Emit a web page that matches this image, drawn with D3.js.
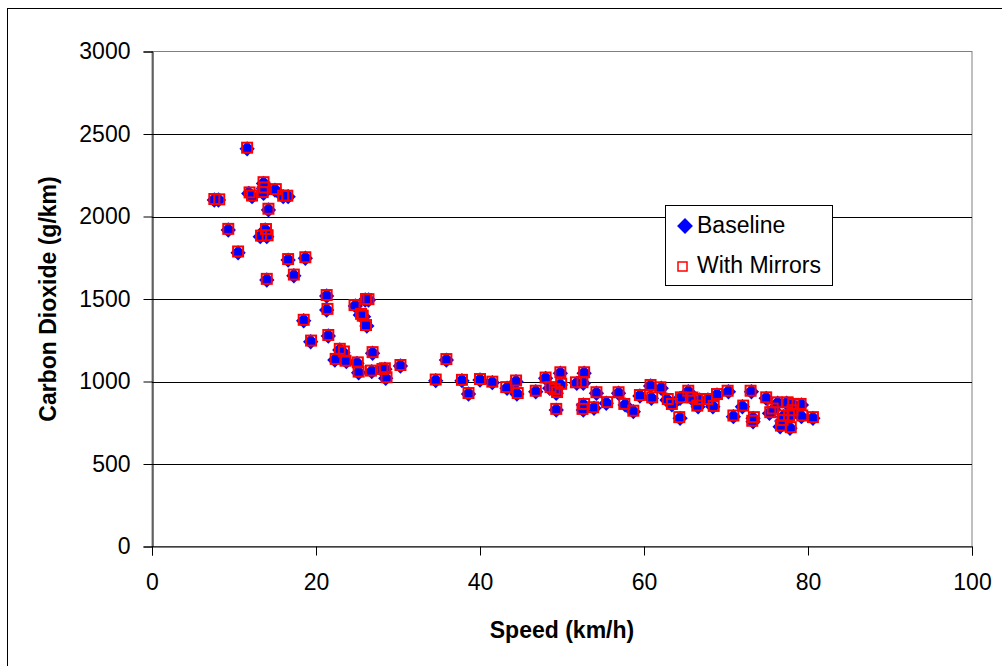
<!DOCTYPE html>
<html>
<head>
<meta charset="utf-8">
<script src="https://cdn.jsdelivr.net/npm/d3@7"></script>
<style>
  body { margin: 0; background: #fff; }
  svg { display: block; font-family: "Liberation Sans", Arial, sans-serif; }
</style>
</head>
<body>
<svg id="chart" width="1002" height="666"></svg>
<script>
// Speed (km/h) and CO2 (g/km)
const baseSpeed = [7.6, 8.1, 9.3, 10.5, 11.6, 11.8, 12.2, 13.2, 13.6, 13.6, 13.6, 13.8, 14.0, 14.0, 14.2, 15.0, 16.0, 16.6, 16.6, 17.3,
  18.5, 18.7, 19.35, 21.3, 21.3, 21.5, 22.3, 22.9, 23.3, 23.7, 24.8, 25.0, 25.2, 25.4, 25.8, 26.0, 26.4, 26.2, 26.9, 26.8,
  28.0, 28.4, 28.5, 30.3, 34.6, 35.9, 37.8, 38.6, 40.0, 41.5, 43.3, 44.4, 44.5, 46.8, 48.0, 48.5, 49.2, 49.3, 49.8, 49.8,
  49.3, 51.8, 52.6, 52.7, 52.6, 52.6, 54.2, 53.9, 55.4, 56.9, 57.7, 58.7, 59.5, 60.8, 60.9, 62.1, 62.8, 63.4, 64.4, 64.4,
  65.4, 65.8, 66.6, 66.8, 67.8, 68.4, 68.9, 70.3, 70.9, 72.0, 73.1, 73.3, 73.3, 74.9, 75.3, 76.3, 76.6, 77.0, 77.4, 77.8,
  77.8, 78.2, 79.2, 79.2, 80.6, 76.8, 78.0, 75.8];
const baseCO2 = [2100, 2100, 1918, 1780, 2410, 2140, 2120, 1878, 2200, 2170, 2140, 1918, 1878, 1615, 2040, 2160, 2120, 2120, 1736, 1641,
  1368, 1747, 1241, 1518, 1433, 1276, 1130, 1191, 1175, 1120, 1458, 1110, 1053, 1403, 1393, 1494, 1494, 1336, 1171, 1060,
  1070, 1074, 1019, 1094, 1005, 1130, 1005, 924, 1009, 993, 959, 999, 924, 938, 1019, 959, 948, 929, 1050, 979,
  827, 989, 989, 1050, 858, 827, 929, 838, 868, 929, 858, 817, 912, 973, 898, 959, 888, 858, 898, 777,
  938, 898, 847, 888, 888, 847, 918, 938, 787, 847, 938, 777, 756, 898, 807, 868, 726, 787, 868, 716,
  787, 858, 858, 787, 777, 760, 820, 830];

const mirrorSpeed = [7.6, 8.2, 9.3, 10.5, 11.6, 11.9, 12.2, 13.3, 13.6, 13.7, 13.5, 13.9, 14.1, 14.0, 14.2, 15.1, 16.0, 16.5, 16.6, 17.3,
  18.5, 18.7, 19.4, 21.3, 21.4, 21.5, 22.4, 22.9, 23.4, 23.6, 24.7, 25.1, 25.2, 25.5, 25.7, 26.1, 26.4, 26.1, 26.9, 26.7,
  28.1, 28.4, 28.6, 30.3, 34.6, 35.9, 37.8, 38.6, 40.0, 41.5, 43.2, 44.4, 44.6, 46.8, 48.0, 48.6, 49.1, 49.4, 49.8, 49.9,
  49.3, 51.7, 52.5, 52.7, 52.7, 52.5, 54.2, 53.8, 55.5, 56.9, 57.6, 58.7, 59.5, 60.8, 61.0, 62.0, 62.9, 63.4, 64.5, 64.3,
  65.4, 65.9, 66.5, 66.8, 67.7, 68.5, 68.9, 70.2, 70.9, 72.1, 73.0, 73.4, 73.2, 74.9, 75.4, 76.2, 76.7, 77.0, 77.5, 77.9,
  77.7, 78.2, 79.1, 79.3, 80.6, 76.9, 78.1, 75.7];
const mirrorCO2 = [2106, 2104, 1925, 1788, 2417, 2146, 2127, 1884, 2208, 2176, 2148, 1924, 1886, 1622, 2047, 2166, 2126, 2126, 1742, 1648,
  1374, 1753, 1248, 1524, 1440, 1282, 1137, 1198, 1182, 1126, 1463, 1116, 1060, 1410, 1399, 1500, 1499, 1342, 1178, 1066,
  1076, 1080, 1026, 1100, 1012, 1136, 1010, 930, 1015, 999, 966, 1006, 930, 944, 1024, 966, 954, 936, 1056, 986,
  834, 995, 996, 1056, 864, 834, 935, 844, 875, 935, 864, 823, 918, 979, 904, 965, 894, 864, 904, 784,
  944, 903, 854, 894, 894, 852, 924, 944, 794, 854, 944, 784, 762, 904, 814, 874, 733, 794, 874, 723,
  794, 864, 864, 794, 784, 767, 826, 836];

const xTicks = [0, 20, 40, 60, 80, 100];
const yTicks = [0, 500, 1000, 1500, 2000, 2500, 3000];

const baseline = baseSpeed.map((s, i) => ({ x: s, y: baseCO2[i] }));
const mirrors = mirrorSpeed.map((s, i) => ({ x: s, y: mirrorCO2[i] }));

const svg = d3.select("#chart");
const plotLeft = 152, plotRight = 972, plotTop = 51.5, plotBottom = 546.5;

const x = d3.scaleLinear().domain([0, 100]).range([plotLeft, plotRight]);
const y = d3.scaleLinear().domain([0, 3000]).range([plotBottom, plotTop]);

// outer chart border (runs off the right/bottom edge)
svg.append("rect")
  .attr("x", 7.5).attr("y", 8.5)
  .attr("width", 1100).attr("height", 800)
  .attr("fill", "#fff").attr("stroke", "#000");

// plot area frame
svg.append("rect")
  .attr("x", plotLeft).attr("y", plotTop)
  .attr("width", plotRight - plotLeft).attr("height", plotBottom - plotTop)
  .attr("fill", "#fff").attr("stroke", "#808080");

// horizontal gridlines
svg.append("g")
  .selectAll("line")
  .data(yTicks.filter(d => d > 0 && d < 3000))
  .join("line")
  .attr("x1", plotLeft).attr("x2", plotRight)
  .attr("y1", d => Math.round(y(d)) + 0.5).attr("y2", d => Math.round(y(d)) + 0.5)
  .attr("stroke", "#000");

// axes
const yAxis = svg.append("g")
  .attr("transform", `translate(${plotLeft + 0.5},0)`)
  .call(d3.axisLeft(y).tickValues(yTicks).tickSize(9).tickPadding(13).tickFormat(d3.format("d")));
const xAxis = svg.append("g")
  .attr("transform", `translate(0,${plotBottom})`)
  .call(d3.axisBottom(x).tickValues(xTicks).tickSize(9).tickPadding(18).tickFormat(d3.format("d")));

[xAxis, yAxis].forEach(g => {
  g.select(".domain").attr("stroke", "#000");
  g.selectAll(".tick line").attr("stroke", "#000");
  g.selectAll(".tick text")
    .attr("fill", "#000")
    .style("font-size", "23px")
    .style("font-family", "'Liberation Sans', Arial, sans-serif");
});

// axis titles
svg.append("text")
  .attr("x", (plotLeft + plotRight) / 2).attr("y", 638)
  .attr("text-anchor", "middle")
  .style("font-size", "23px").style("font-weight", "bold")
  .text("Speed (km/h)");

svg.append("text")
  .attr("transform", `translate(56,${(plotTop + plotBottom) / 2}) rotate(-90)`)
  .attr("text-anchor", "middle")
  .style("font-size", "23px").style("font-weight", "bold")
  .text("Carbon Dioxide (g/km)");

// series
const diamond = d3.symbol().type(d3.symbolDiamond2).size(150);

svg.append("g")
  .selectAll("path")
  .data(baseline)
  .join("path")
  .attr("d", diamond)
  .attr("transform", d => `translate(${x(d.x)},${y(d.y)})`)
  .attr("fill", "#0000ff");

svg.append("g")
  .selectAll("rect")
  .data(mirrors)
  .join("rect")
  .attr("x", d => x(d.x) - 5).attr("y", d => y(d.y) - 5)
  .attr("width", 10).attr("height", 10)
  .attr("fill", "none")
  .attr("stroke", "#ff0000").attr("stroke-width", 2);

// legend
const legend = svg.append("g");
legend.append("rect")
  .attr("x", 665.5).attr("y", 205.5)
  .attr("width", 167).attr("height", 80)
  .attr("fill", "#fff").attr("stroke", "#000");
legend.append("path")
  .attr("d", d3.symbol().type(d3.symbolDiamond2).size(160))
  .attr("transform", "translate(685,226)")
  .attr("fill", "#0000ff");
legend.append("rect")
  .attr("x", 678).attr("y", 262)
  .attr("width", 9).attr("height", 9)
  .attr("fill", "none").attr("stroke", "#ff0000").attr("stroke-width", 1.5);
legend.append("text")
  .attr("x", 697).attr("y", 233)
  .style("font-size", "23px")
  .text("Baseline");
legend.append("text")
  .attr("x", 697).attr("y", 273)
  .style("font-size", "23px")
  .text("With Mirrors");
</script>
</body>
</html>
